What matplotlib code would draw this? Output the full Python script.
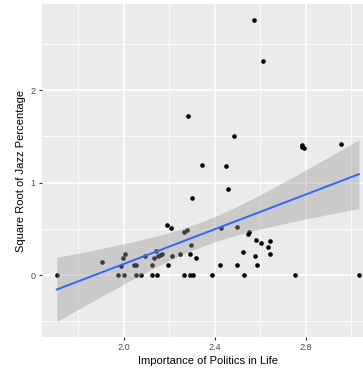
import numpy as np
import matplotlib
matplotlib.use('agg')
import matplotlib.pyplot as plt

# importance of politics (x) vs sqrt jazz percentage (y)
politics = [1.707, 1.906, 1.977, 1.991, 1.999, 2.007, 2.003, 2.045, 2.056, 2.054,
            2.076, 2.094, 2.123, 2.126, 2.136, 2.142, 2.147, 2.151, 2.161, 2.170,
            2.190, 2.207, 2.195, 2.215, 2.246, 2.264, 2.277, 2.265, 2.290, 2.296,
            2.293, 2.305, 2.303, 2.318, 2.387, 2.422, 2.429, 2.457, 2.498, 2.498,
            2.523, 2.530, 2.545, 2.552, 2.576, 2.583, 2.585, 2.604, 2.633, 2.642,
            2.642, 2.753, 3.034, 2.573, 2.611, 2.284, 2.485, 2.346, 2.450, 2.784,
            2.784, 2.793, 2.957]
jazz = [0.0, 0.143, 0.0, 0.100, 0.180, 0.226, 0.0, 0.104, 0.104, 0.0,
        0.0, 0.208, 0.0, 0.104, 0.183, 0.265, 0.0, 0.204, 0.219, 0.229,
        0.541, 0.509, 0.104, 0.208, 0.229, 0.462, 0.491, 0.0, 0.226, 0.323,
        0.0, 0.0, 0.832, 0.180, 0.0, 0.104, 0.509, 0.935, 0.520, 0.104,
        0.251, 0.0, 0.444, 0.470, 0.208, 0.380, 0.104, 0.344, 0.305, 0.369,
        0.229, 0.0, 0.0, 2.763, 2.319, 1.724, 1.502, 1.190, 1.183, 1.405,
        1.380, 1.369, 1.416]

xticks = [2.0, 2.4, 2.8]
xtick_labels = ['2.0', '2.4', '2.8']
yticks = [0, 1, 2]

x = np.array(politics)
y = np.array(jazz)

# linear fit + 95% confidence band like geom_smooth(method='lm')
n = len(x)
slope, icpt = np.polyfit(x, y, 1)
resid = y - (slope * x + icpt)
s = np.sqrt(np.sum(resid ** 2) / (n - 2))
xs = np.linspace(x.min(), x.max(), 80)
ys = slope * xs + icpt
se = s * np.sqrt(1.0 / n + (xs - x.mean()) ** 2 / np.sum((x - x.mean()) ** 2))
tval = 2.0
lo, hi = ys - tval * se, ys + tval * se

plt.rcParams['font.family'] = ['Liberation Sans', 'DejaVu Sans']

fig = plt.figure(figsize=(3.63, 3.75), dpi=100)
W, H = 363.0, 375.0
ax = fig.add_axes([41.7 / W, (H - 336.7) / H, (374 - 41.7) / W, (336.7 - 4.5) / H])
ax.set_facecolor('#EBEBEB')

xmin, xmax = x.min(), x.max()
ymin, ymax = min(y.min(), lo.min()), max(y.max(), hi.max())
dx, dy = 0.05 * (xmax - xmin), 0.05 * (ymax - ymin)
ax.set_xlim(xmin - dx, xmax + dx)
ax.set_ylim(ymin - dy, ymax + dy)

ax.set_xticks(xticks)
ax.set_xticklabels(xtick_labels)
ax.set_yticks(yticks)
ax.set_xticks([1.8, 2.2, 2.6, 3.0], minor=True)
ax.set_yticks([-0.5, 0.5, 1.5, 2.5], minor=True)
ax.grid(True, which='major', color='white', linewidth=1.1)
ax.grid(True, which='minor', color='white', linewidth=0.55)
ax.set_axisbelow(True)
for sp in ax.spines.values():
    sp.set_visible(False)
ax.tick_params(which='major', length=2.5, width=0.8, color='#333333',
               labelcolor='#4D4D4D', labelsize=6.6, pad=2)
ax.tick_params(which='minor', length=0)

ax.scatter(x, y, s=11, color='black', linewidths=0, zorder=3)
ax.fill_between(xs, lo, hi, color='#999999', alpha=0.4, linewidth=0, zorder=4)
ax.plot(xs, ys, color='#3366FF', linewidth=1.4, zorder=5)

ax.set_xlabel('Importance of Politics in Life', fontsize=8, labelpad=3)
ax.set_ylabel('Square Root of Jazz Percentage', fontsize=8, labelpad=3)

fig.savefig('out.png', dpi=100)
